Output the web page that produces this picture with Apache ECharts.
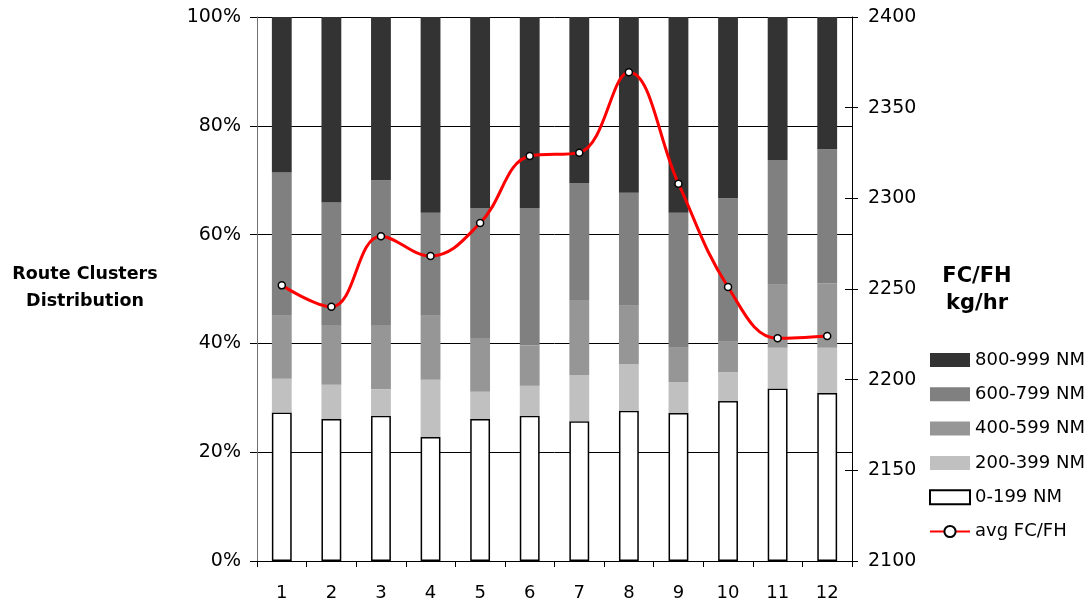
<!DOCTYPE html>
<html>
<head>
<meta charset="utf-8">
<script src="https://cdn.jsdelivr.net/npm/echarts@6/dist/echarts.min.js"></script>
<style>
html,body{margin:0;padding:0;background:#fff;}
#chart{width:1088px;height:608px;}
</style>
</head>
<body>
<div id="chart"></div>
<script>
const categories = ['1','2','3','4','5','6','7','8','9','10','11','12'];
const nm0_199   = [27.3,26.1,26.7,22.8,26.1,26.7,25.7,27.6,27.2,29.4,31.7,30.9];
const nm200_399 = [6.2,6.3,4.9,10.5,5.0,5.5,8.5,8.6,5.7,5.3,7.5,8.3];
const nm400_599 = [11.6,11.0,11.8,11.8,9.9,7.4,13.8,10.7,6.3,5.6,11.6,11.8];
const nm600_799 = [26.3,22.5,26.6,18.9,23.9,25.3,21.5,20.8,24.8,26.4,22.9,24.7];
const nm800_999 = [28.6,34.1,30.0,36.0,35.1,35.1,30.5,32.3,36.0,33.3,26.3,24.3];
const avgFCFH   = [2252.0,2240.2,2279.1,2268.2,2286.4,2323.3,2325.2,2369.5,2308.1,2251.1,2222.8,2224.1];
const seriesNames = ['800-999 NM','600-799 NM','400-599 NM','200-399 NM','0-199 NM','avg FC/FH'];

const FONT = 'DejaVu Sans';
const chart = echarts.init(document.getElementById('chart'), null, {renderer:'canvas'});

function barSeries(name, data, color, extra) {
  return Object.assign({
    name: name, type: 'bar', stack: 'dist', data: data, barWidth: '40%',
    itemStyle: { color: color }, emphasis: { disabled: true }
  }, extra || {});
}

chart.setOption({
  animation: false,
  backgroundColor: '#ffffff',
  textStyle: { fontFamily: FONT, color: '#000' },
  grid: { left: 257, right: 236, top: 17, bottom: 47, containLabel: false },
  legend: {
    orient: 'vertical', left: 924, top: 345,
    itemWidth: 40, itemHeight: 14, itemGap: 14.3,
    data: seriesNames.map(function (n) { return n === 'avg FC/FH' ? { name: n } : { name: n, icon: 'rect' }; }),
    textStyle: { fontFamily: FONT, fontSize: 18, color: '#000', lineHeight: 20 }
  },
  xAxis: {
    type: 'category', data: categories,
    axisLine: { lineStyle: { color: '#000', width: 1 } },
    axisTick: { show: true, length: 6, lineStyle: { color: '#000' } },
    axisLabel: { fontFamily: FONT, fontSize: 18, color: '#000', margin: 23 }
  },
  yAxis: [
    {
      type: 'value', min: 0, max: 100, interval: 20, position: 'left',
      axisLine: { show: true, lineStyle: { color: '#707070', width: 1 } },
      axisTick: { show: true, length: 7, lineStyle: { color: '#000' } },
      axisLabel: { formatter: '{value}%', fontFamily: FONT, fontSize: 19, color: '#000', margin: 16 },
      splitLine: { show: true, lineStyle: { color: '#000', width: 1 } }
    },
    {
      type: 'value', min: 2100, max: 2400, interval: 50, position: 'right', offset: 0,
      axisLine: { show: true, lineStyle: { color: '#000', width: 1 } },
      axisTick: { show: true, length: 6, lineStyle: { color: '#000' } },
      axisLabel: { formatter: function (v) { return String(v); }, fontFamily: FONT, fontSize: 19, color: '#000', margin: 16 },
      splitLine: { show: false }
    },
    {
      type: 'value', min: 2100, max: 2400, interval: 50, position: 'right', offset: 0,
      axisLine: { show: false },
      axisTick: { show: true, inside: true, length: 7, lineStyle: { color: '#000' } },
      axisLabel: { show: false },
      splitLine: { show: false }
    }
  ],
  graphic: [
    { type: 'text', x: 85, y: 288.3, style: { text: 'Route Clusters\nDistribution', fontFamily: FONT, fontWeight: 'bold', fontSize: 17.5, lineHeight: 26.7, fill: '#000', align: 'center', verticalAlign: 'middle' } },
    { type: 'text', x: 977, y: 290, style: { text: 'FC/FH\nkg/hr', fontFamily: FONT, fontWeight: 'bold', fontSize: 21, lineHeight: 26.7, fill: '#000', align: 'center', verticalAlign: 'middle' } }
  ],
  series: [
    barSeries('0-199 NM', nm0_199, '#ffffff', { itemStyle: { color: '#ffffff', borderColor: '#000', borderWidth: 1.5 } }),
    barSeries('200-399 NM', nm200_399, '#c0c0c0'),
    barSeries('400-599 NM', nm400_599, '#969696'),
    barSeries('600-799 NM', nm600_799, '#808080'),
    barSeries('800-999 NM', nm800_999, '#333333'),
    {
      name: 'avg FC/FH', type: 'line', yAxisIndex: 1, data: avgFCFH, smooth: 0.4,
      symbol: 'circle', symbolSize: 7, z: 10,
      lineStyle: { color: '#ff0000', width: 3 },
      itemStyle: { color: '#ffffff', borderColor: '#000', borderWidth: 1.5 },
      emphasis: { disabled: true }
    }
  ]
});
</script>
</body>
</html>
